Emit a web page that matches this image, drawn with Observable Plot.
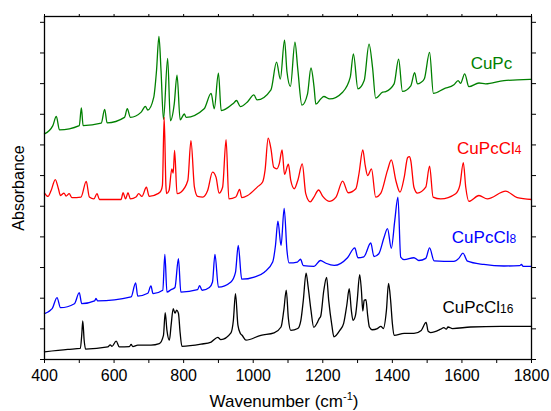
<!DOCTYPE html>
<html>
<head>
<meta charset="utf-8">
<script src="https://cdn.jsdelivr.net/npm/d3@7"></script>
<script src="https://cdn.jsdelivr.net/npm/@observablehq/plot@0.6"></script>
<style>
  html, body { margin: 0; padding: 0; background: #fff; }
  #chart { width: 551px; height: 411px; }
</style>
</head>
<body>
<div id="chart"></div>
<script>
// ---- Data ----
const seriesNames = ["CuPc", "CuPcCl4", "CuPcCl8", "CuPcCl16"];
const seriesColors = ["#008000", "#ff0000", "#0000ff", "#000000"];

const cupcWn = [400,424,434,443,500,506,511,563,573,580,630,638,647,678,690,697,714,722,729,735,742,754,762,773,781,790,802,807,859,879,888,900,908,945,952,963,984,1002,1011,1051,1067,1078,1090,1097,1107,1120,1128,1140,1156,1166,1175,1180,1194,1203,1220,1257,1279,1288,1301,1319,1333,1343,1352,1372,1381,1405,1418,1429,1453,1464,1472,1482,1492,1507,1518,1548,1577,1589,1596,1608,1620,1649,1668,1721,1759,1800];
const cupcAbs = [7.36,7.63,7.93,7.49,7.63,8.21,7.63,7.71,8.16,7.72,7.90,8.18,7.90,8.07,8.26,8.14,8.55,9.42,10.54,9.42,7.83,9.82,7.79,8.34,9.28,7.82,8.01,7.90,8.18,8.68,8.18,9.34,8.12,8.38,8.45,8.25,8.41,8.63,8.47,8.80,9.70,9.15,10.42,9.39,8.91,10.35,9.49,8.30,8.66,9.51,8.88,8.33,8.50,8.58,8.50,8.72,9.21,9.97,8.83,9.10,10.29,9.53,8.53,8.72,8.74,8.99,9.80,8.75,8.93,9.36,8.99,9.04,9.16,10.02,8.68,8.83,8.96,9.10,9.01,9.32,8.90,9.02,8.99,9.10,9.12,9.14];

const cl4Wn = [400,410,419,431,440,446,456,462,471,479,505,520,529,542,551,558,620,626,633,640,647,663,671,680,693,701,726,735,739,744,749,751,758,766,770,774,781,792,812,821,831,840,855,869,883,893,902,912,922,930,950,961,967,984,1013,1027,1034,1043,1051,1059,1068,1075,1083,1090,1101,1108,1118,1128,1141,1151,1164,1174,1188,1200,1218,1238,1257,1273,1295,1304,1315,1322,1329,1340,1352,1367,1386,1397,1410,1422,1434,1444,1449,1453,1462,1472,1496,1507,1517,1539,1582,1594,1604,1611,1620,1649,1673,1726,1759,1800];
const cl4Abs = [5.43,5.32,5.51,5.87,5.57,5.35,5.43,5.33,5.41,5.28,5.30,5.81,5.30,5.24,5.41,5.22,5.22,5.44,5.24,5.44,5.24,5.30,5.41,5.32,5.62,5.32,5.41,5.51,5.68,7.90,5.68,5.41,5.51,6.22,6.08,6.82,5.41,5.46,5.84,7.14,5.62,5.32,5.30,5.51,6.11,5.95,5.43,5.62,7.17,5.24,5.30,5.55,5.28,5.35,5.64,5.79,6.17,7.22,6.87,6.27,6.22,6.39,6.84,6.04,6.37,5.84,5.57,5.84,6.38,5.41,5.14,5.29,5.53,5.32,5.16,5.30,5.82,5.44,5.57,6.06,6.84,6.33,6.00,6.22,5.30,5.43,6.17,6.51,5.84,5.46,5.94,6.59,6.62,6.49,5.62,5.43,5.62,6.31,5.30,5.24,5.41,5.68,6.42,5.62,5.16,5.35,5.24,5.49,5.28,5.22];

const cl8Wn = [400,410,417,422,436,446,486,500,507,544,548,553,649,662,668,697,706,712,740,746,752,764,775,785,792,840,846,853,874,883,890,900,936,949,957,967,1003,1032,1056,1064,1071,1080,1089,1097,1103,1127,1136,1144,1175,1193,1209,1233,1271,1292,1301,1318,1338,1347,1361,1376,1386,1397,1407,1416,1424,1434,1462,1476,1496,1507,1520,1577,1591,1603,1616,1663,1721,1766,1771,1776,1800];
const cl8Abs = [1.50,1.55,1.61,1.66,2.02,1.69,1.82,2.18,1.82,1.91,1.99,1.91,2.04,2.50,2.07,2.16,2.40,2.15,2.26,3.43,2.20,2.28,2.35,3.29,2.20,2.28,2.41,2.26,2.35,2.53,3.43,2.36,2.53,2.84,3.72,2.62,2.69,2.85,3.18,3.72,4.51,3.72,4.93,3.56,3.15,3.18,3.27,3.06,3.04,3.23,3.14,3.07,3.32,3.64,3.32,3.35,3.80,3.36,3.45,3.98,4.27,3.63,4.54,5.30,3.34,3.26,3.32,3.23,3.30,3.64,3.22,3.20,3.30,3.47,3.21,3.10,3.05,3.06,3.10,3.04,3.04];

const cl16Wn = [400,467,503,507,510,514,518,582,589,594,606,615,644,649,654,668,706,730,742,747,752,759,764,770,775,780,785,790,795,850,879,898,907,936,943,949,956,963,968,979,1022,1060,1080,1088,1095,1101,1108,1128,1137,1144,1152,1158,1166,1174,1185,1190,1194,1203,1211,1217,1226,1232,1249,1260,1269,1276,1282,1287,1294,1299,1306,1311,1315,1319,1324,1329,1334,1342,1357,1367,1374,1383,1389,1395,1400,1405,1434,1462,1483,1497,1503,1510,1539,1548,1555,1560,1573,1625,1711,1800];
const cl16Abs = [0.25,0.33,0.36,0.79,1.26,0.63,0.34,0.41,0.48,0.43,0.60,0.41,0.42,0.49,0.42,0.47,0.47,0.52,0.79,1.53,0.95,0.63,1.12,1.66,1.51,1.61,1.51,0.86,0.43,0.50,0.57,0.72,0.65,0.87,1.28,2.15,1.12,0.85,0.79,0.63,0.79,0.87,1.06,1.61,2.26,1.35,0.95,1.01,1.28,1.93,2.82,2.36,1.61,1.05,1.22,1.34,1.41,2.26,2.68,1.93,1.12,0.74,0.95,1.18,1.77,2.31,1.61,1.28,1.44,1.93,2.77,2.26,1.58,1.93,1.95,1.44,1.06,0.97,1.01,1.08,1.01,1.61,2.48,1.93,1.18,0.79,0.85,0.85,0.95,1.21,0.92,0.88,0.99,1.04,0.99,1.06,1.01,1.06,1.08,1.08];

// tick values and label texts
const xMajorTicks = [400, 600, 800, 1000, 1200, 1400, 1600, 1800];
const xMinorTicks = [500, 700, 900, 1100, 1300, 1500, 1700];
const xAllTicks = [400,500,600,700,800,900,1000,1100,1200,1300,1400,1500,1600,1700,1800];
const yTicks = [0,1,2,3,4,5,6,7,8,9,10,11];
const labelMain = ["CuPc", "CuPcCl", "CuPcCl", "CuPcCl"];
const labelSub = ["", "4", "8", "16"];
const labelWn = [1625, 1586, 1571, 1544];
const labelAbs = [9.49, 6.72, 3.80, 1.52];
const xTitle = "Wavenumber (cm";
const xTitleSup = "-1";
const yTitle = "Absorbance";

// ---- Build table ----
const seriesData = [
  [cupcWn, cupcAbs],
  [cl4Wn, cl4Abs],
  [cl8Wn, cl8Abs],
  [cl16Wn, cl16Abs]
];
const rows = seriesData.flatMap(([wn, ab], k) =>
  wn.map((w, i) => ({series: seriesNames[k], wn: w, abs: ab[i]})));

const font = "'Liberation Sans', Arial, Helvetica, sans-serif";

const chart = Plot.plot({
  width: 551,
  height: 411,
  marginLeft: 44,
  marginRight: 20,
  marginTop: 16,
  marginBottom: 52,
  style: {fontFamily: font, background: "#fff", color: "#000", overflow: "visible"},
  x: {domain: [400, 1800]},
  y: {domain: [0, 11.19]},
  color: {domain: seriesNames, range: seriesColors},
  marks: [
    Plot.line(rows, {x: "wn", y: "abs", z: "series", stroke: "series", strokeWidth: 1.3, curve: "monotone-x"}),
    Plot.axisX({ticks: xMajorTicks, tickFormat: d => String(d), tickSize: 4, tickPadding: 6, fontSize: 16, label: null, stroke: "#000", fill: "#000"}),
    Plot.axisX({ticks: xMinorTicks, tickSize: 4, fill: "none", label: null, stroke: "#000"}),
    Plot.axisX({anchor: "top", ticks: xAllTicks, tickSize: 3, fill: "none", label: null, stroke: "#000"}),
    Plot.axisY({ticks: yTicks, tickSize: 4, fill: "none", label: null, stroke: "#000"}),
    Plot.axisY({anchor: "right", ticks: yTicks, tickSize: 4, fill: "none", label: null, stroke: "#000"}),
    Plot.frame({stroke: "#000", strokeWidth: 1.3}),
    Plot.text(seriesNames, {x: labelWn, y: labelAbs, text: labelMain, fill: seriesNames,
      textAnchor: "start", lineAnchor: "bottom", fontSize: 17}),
    Plot.text([xTitle], {frameAnchor: "bottom", text: d => d, dx: -4, dy: 47,
      textAnchor: "middle", lineAnchor: "bottom", fontSize: 17, fill: "#000"}),
    Plot.text([yTitle], {frameAnchor: "left", text: d => d, dx: -26, rotate: -90,
      textAnchor: "middle", lineAnchor: "middle", fontSize: 16, fill: "#000"})
  ]
});

// subscripts for the series labels (matched in order among texts "CuPc"/"CuPcCl")
const labelNodes = Array.from(chart.querySelectorAll("text"))
  .filter(t => labelMain.includes(t.textContent));
labelNodes.forEach((t, i) => {
  if (labelSub[i]) d3.select(t).append("tspan").attr("font-size", 12).text(labelSub[i]);
});
// superscript in the x title
Array.from(chart.querySelectorAll("text"))
  .filter(t => t.textContent === xTitle)
  .forEach(t => {
    const s = d3.select(t);
    s.append("tspan").attr("font-size", 11).attr("dy", -7).text(xTitleSup);
    s.append("tspan").attr("dy", 7).text(")");
  });

document.getElementById("chart").appendChild(chart);
</script>
</body>
</html>
